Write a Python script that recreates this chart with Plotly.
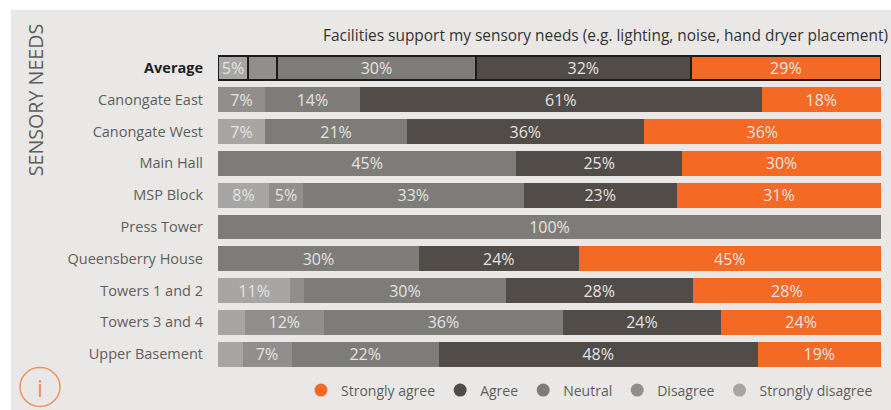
import plotly.graph_objects as go

W, H = 891, 410
L, R, T, B = 218, 10, 51.5, 39.5

sites = ["Average", "Canongate East", "Canongate West", "Main Hall", "MSP Block", "Press Tower",
         "Queensberry House", "Towers 1 and 2", "Towers 3 and 4", "Upper Basement"]
tick_labels = ['<span style="color:#1f1f1f"><b>Average</b></span>'] + sites[1:]

strongly_disagree = [4.5, 0, 7.1, 0, 7.7, 0, 0, 10.9, 4.0, 3.7]
disagree = [4.4, 7.1, 0, 0, 5.1, 0, 0, 2.1, 12.0, 7.4]
neutral = [30.0, 14.3, 21.4, 45.0, 33.3, 100, 30.3, 30.4, 36.0, 22.2]
agree = [32.4, 60.6, 35.7, 25.0, 23.1, 0, 24.1, 28.2, 23.9, 48.1]
strongly_agree = [28.7, 18.0, 35.8, 30.0, 30.8, 0, 45.6, 28.4, 24.1, 18.6]

label_sd = ["5%", "", "7%", "", "8%", "", "", "11%", "", ""]
label_d = ["", "7%", "", "", "5%", "", "", "", "12%", "7%"]
label_n = ["30%", "14%", "21%", "45%", "33%", "100%", "30%", "30%", "36%", "22%"]
label_a = ["32%", "61%", "36%", "25%", "23%", "", "24%", "28%", "24%", "48%"]
label_sa = ["29%", "18%", "36%", "30%", "31%", "", "45%", "28%", "24%", "19%"]

series = [
    ("Strongly disagree", strongly_disagree, label_sd, "#A7A6A4"),
    ("Disagree", disagree, label_d, "#918F8D"),
    ("Neutral", neutral, label_n, "#7E7C79"),
    ("Agree", agree, label_a, "#524C48"),
    ("Strongly agree", strongly_agree, label_sa, "#F46A25"),
]

FONT = "Open Sans"
fig = go.Figure()
for name, vals, labels, color in series:
    fig.add_trace(go.Bar(
        y=sites, x=vals, name=name, orientation="h", text=labels,
        textposition="inside", insidetextanchor="middle", textangle=0, constraintext="none",
        textfont=dict(family=FONT, size=16, color="#E4E3E1"),
        marker=dict(color=color,
                    line=dict(color="#1c1c1c", width=[2] + [0] * 9)),
        showlegend=False, hoverinfo="skip"))

for name, vals, labels, color in reversed(series):
    fig.add_trace(go.Scatter(
        x=[None], y=[None], name=name, mode="markers",
        marker=dict(color=color, size=13, symbol="circle"), showlegend=True))


def px(x):
    return (x - L) / (W - L - R)


def py(y):
    return 1 - (y - T) / (H - T - B)


fig.add_shape(type="rect", xref="paper", yref="paper", layer="below",
              x0=px(11), x1=px(899), y0=py(418), y1=py(9),
              fillcolor="#E9E8E7", line_width=0)
fig.add_shape(type="circle", xref="paper", yref="paper",
              x0=px(20), x1=px(60), y0=py(407), y1=py(368),
              line=dict(color="#F2905C", width=1.5), fillcolor="rgba(0,0,0,0)")
fig.add_annotation(xref="paper", yref="paper", x=px(40), y=py(388), text="i", showarrow=False,
                   xanchor="center", yanchor="middle",
                   font=dict(family="Open Sans", size=24, color="#F2905C"))
fig.add_annotation(xref="paper", yref="paper", x=px(890), y=py(34), xanchor="right", yanchor="middle",
                   text="Facilities support my sensory needs (e.g. lighting, noise, hand dryer placement)",
                   showarrow=False, font=dict(family=FONT, size=15.45, color="#333333"))
fig.add_annotation(xref="paper", yref="paper", x=px(35), y=py(100), textangle=-90,
                   xanchor="center", yanchor="middle",
                   text="SENSORY NEEDS", showarrow=False,
                   font=dict(family=FONT, size=19.7, color="#605E5C"))

fig.update_layout(
    width=W + 8, height=H + 8, barmode="stack", bargap=0.22,
    margin=dict(l=L, r=R + 8, t=T, b=B + 8, pad=0),
    paper_bgcolor="white", plot_bgcolor="#E9E8E7",
    font=dict(family=FONT),
    xaxis=dict(range=[0, 100], visible=False, fixedrange=True, automargin=False),
    yaxis=dict(autorange="reversed", tickmode="array", tickvals=sites, ticktext=tick_labels,
               showgrid=False, zeroline=False, showline=False, ticks="", ticklabelstandoff=14,
               tickfont=dict(family=FONT, size=14.5, color="#605E5C"),
               fixedrange=True, automargin=False),
    legend=dict(orientation="h", x=px(301), y=py(391), xanchor="left", yanchor="middle",
                traceorder="normal",
                font=dict(family=FONT, size=14, color="#605E5C"),
                bgcolor="rgba(0,0,0,0)", itemclick=False, itemdoubleclick=False),
)
fig.write_html("out.html", config={"displayModeBar": False},
               post_script="document.body.style.margin='0';document.body.style.overflow='hidden';")
